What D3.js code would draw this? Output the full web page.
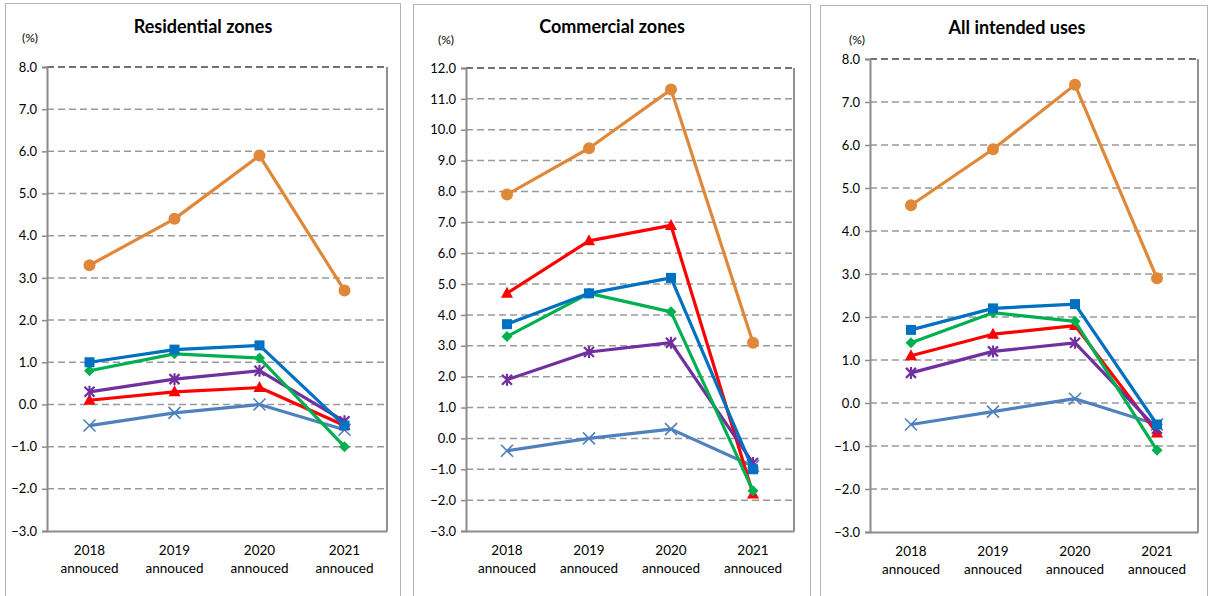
<!DOCTYPE html>
<html>
<head>
<meta charset="utf-8">
<script src="https://cdn.jsdelivr.net/npm/d3@7"></script>
<style>
  html, body { margin: 0; padding: 0; background: #fff; }
  svg { display: block; }
  text { font-family: "Lato", "Open Sans", sans-serif; fill: #000; }
</style>
</head>
<body>
<svg id="chart" width="1211" height="596"></svg>
<script>
// Categories shared by all three panels
const years = ["2018", "2019", "2020", "2021"];
const yearSuffix = "annouced";

// Series order: orange, blue, green, purple, red, light blue
const seriesNames = ["s1", "s2", "s3", "s4", "s5", "s6"];
const seriesColors = ["#E0883A", "#0070C0", "#00B050", "#7030A0", "#FF0000", "#4F81BD"];
const seriesMarkers = ["circle", "square", "diamond", "star", "triangle", "cross"];

// Residential zones (%)
const resOrange = [3.3, 4.4, 5.9, 2.7];
const resBlue = [1.0, 1.3, 1.4, -0.5];
const resGreen = [0.8, 1.2, 1.1, -1.0];
const resPurple = [0.3, 0.6, 0.8, -0.4];
const resRed = [0.1, 0.3, 0.4, -0.5];
const resLightBlue = [-0.5, -0.2, 0.0, -0.6];

// Commercial zones (%)
const comOrange = [7.9, 9.4, 11.3, 3.1];
const comBlue = [3.7, 4.7, 5.2, -1.0];
const comGreen = [3.3, 4.7, 4.1, -1.7];
const comPurple = [1.9, 2.8, 3.1, -0.8];
const comRed = [4.7, 6.4, 6.9, -1.8];
const comLightBlue = [-0.4, 0.0, 0.3, -0.9];

// All intended uses (%)
const allOrange = [4.6, 5.9, 7.4, 2.9];
const allBlue = [1.7, 2.2, 2.3, -0.5];
const allGreen = [1.4, 2.1, 1.9, -1.1];
const allPurple = [0.7, 1.2, 1.4, -0.6];
const allRed = [1.1, 1.6, 1.8, -0.7];
const allLightBlue = [-0.5, -0.2, 0.1, -0.5];

// Y tick values for each panel
const resTicks = [8, 7, 6, 5, 4, 3, 2, 1, 0, -1, -2, -3];
const comTicks = [12, 11, 10, 9, 8, 7, 6, 5, 4, 3, 2, 1, 0, -1, -2, -3];
const allTicks = [8, 7, 6, 5, 4, 3, 2, 1, 0, -1, -2, -3];

const panels = [
  {
    title: "Residential zones",
    frame: { x: 5.5, y: 3.5, w: 395, h: 600 },
    plot: { left: 47, right: 387, top: 67, bottom: 531 },
    titleX: 203, titleY: 33, unitX: 30, unitY: 42,
    domain: [-3, 8], ticks: resTicks,
    series: [resOrange, resBlue, resGreen, resPurple, resRed, resLightBlue]
  },
  {
    title: "Commercial zones",
    frame: { x: 413.5, y: 4.5, w: 397, h: 600 },
    plot: { left: 466, right: 794, top: 68, bottom: 531 },
    titleX: 612, titleY: 33, unitX: 446, unitY: 44,
    domain: [-3, 12], ticks: comTicks,
    series: [comOrange, comBlue, comGreen, comPurple, comRed, comLightBlue]
  },
  {
    title: "All intended uses",
    frame: { x: 820.5, y: 5.5, w: 387, h: 600 },
    plot: { left: 870, right: 1198, top: 59, bottom: 532 },
    titleX: 1017, titleY: 34, unitX: 857, unitY: 44,
    domain: [-3, 8], ticks: allTicks,
    series: [allOrange, allBlue, allGreen, allPurple, allRed, allLightBlue]
  }
];

const svg = d3.select("#chart");

// Marker shapes drawn around (0,0)
function markerPath(kind) {
  switch (kind) {
    case "square": return "M-5,-5H5V5H-5Z";
    case "diamond": return "M0,-5.5L5.5,0L0,5.5L-5.5,0Z";
    case "triangle": return "M0,-6.5L6,4.5L-6,4.5Z";
    default: return null;
  }
}

panels.forEach(p => {
  const g = svg.append("g");

  // panel frame
  g.append("rect")
    .attr("x", p.frame.x).attr("y", p.frame.y)
    .attr("width", p.frame.w).attr("height", p.frame.h)
    .attr("fill", "#fff").attr("stroke", "#b4b4b4").attr("stroke-width", 1);

  const x = d3.scaleBand().domain(years).range([p.plot.left, p.plot.right]);
  const y = d3.scaleLinear().domain(p.domain).range([p.plot.bottom, p.plot.top]);

  // dashed grid lines
  g.append("g").selectAll("line")
    .data(p.ticks.filter(t => t !== p.domain[0]))
    .join("line")
    .attr("x1", p.plot.left).attr("x2", p.plot.right)
    .attr("y1", d => y(d)).attr("y2", d => y(d))
    .attr("stroke", d => d === p.domain[1] ? "#444" : "#999")
    .attr("stroke-width", 1.5)
    .attr("stroke-dasharray", "7,4");

  // right border of plot area
  g.append("line")
    .attr("x1", p.plot.right).attr("x2", p.plot.right)
    .attr("y1", p.plot.top).attr("y2", p.plot.bottom)
    .attr("stroke", "#555").attr("stroke-width", 1.3);

  // y axis
  const yAxis = d3.axisLeft(y).tickValues(p.ticks).tickFormat(d3.format(".1f")).tickSize(5).tickPadding(5);
  const ya = g.append("g").attr("transform", `translate(${p.plot.left},0)`).call(yAxis);
  ya.select(".domain").attr("stroke", "#8c8c8c").attr("stroke-width", 2);
  ya.selectAll(".tick line").attr("stroke", "#8c8c8c").attr("stroke-width", 1.5);
  ya.selectAll(".tick text").style("font-size", "13px").attr("fill", "#000")
    .style("font-family", "Lato, 'Open Sans', sans-serif");

  // x axis
  const xAxis = d3.axisBottom(x).tickSize(0).tickFormat(() => "");
  const xa = g.append("g").attr("transform", `translate(0,${p.plot.bottom})`).call(xAxis);
  xa.select(".domain").attr("stroke", "#8c8c8c").attr("stroke-width", 2);
  const lbl = xa.selectAll(".tick").append("text")
    .attr("text-anchor", "middle").style("font-size", "13.5px")
    .style("font-family", "Lato, 'Open Sans', sans-serif").attr("fill", "#000");
  lbl.append("tspan").attr("x", 0).attr("y", 24).text(d => d);
  lbl.append("tspan").attr("x", 0).attr("y", 42).text(yearSuffix);

  // title and unit
  g.append("text").attr("x", p.titleX).attr("y", p.titleY)
    .attr("text-anchor", "middle").style("font-size", "18px").style("font-weight", "bold")
    .text(p.title);
  g.append("text").attr("x", p.unitX).attr("y", p.unitY)
    .attr("text-anchor", "middle").style("font-size", "12px")
    .text("(%)");

  const line = d3.line().x((d, i) => x(years[i]) + x.bandwidth() / 2).y(d => y(d));

  // series lines + markers, light blue drawn first so orange sits on top
  const order = [5, 4, 3, 2, 1, 0];
  order.forEach(si => {
    const vals = p.series[si];
    const col = seriesColors[si];
    const sg = g.append("g").attr("class", seriesNames[si]);
    sg.append("path").datum(vals).attr("d", line)
      .attr("fill", "none").attr("stroke", col).attr("stroke-width", 3.2)
      .attr("stroke-linejoin", "round");
    const kind = seriesMarkers[si];
    const pts = sg.selectAll("g.pt").data(vals).join("g")
      .attr("transform", (d, i) => `translate(${x(years[i]) + x.bandwidth() / 2},${y(d)})`);
    if (kind === "circle") {
      pts.append("circle").attr("r", 6).attr("fill", col);
    } else if (kind === "cross") {
      pts.append("path").attr("d", "M-6,-6L6,6M-6,6L6,-6")
        .attr("stroke", col).attr("stroke-width", 1.6).attr("fill", "none");
    } else if (kind === "star") {
      pts.append("path").attr("d", "M-5,-5L5,5M-5,5L5,-5M0,-6L0,6")
        .attr("stroke", col).attr("stroke-width", 2.2).attr("fill", "none");
    } else {
      pts.append("path").attr("d", markerPath(kind)).attr("fill", col);
    }
  });
});
</script>
</body>
</html>
